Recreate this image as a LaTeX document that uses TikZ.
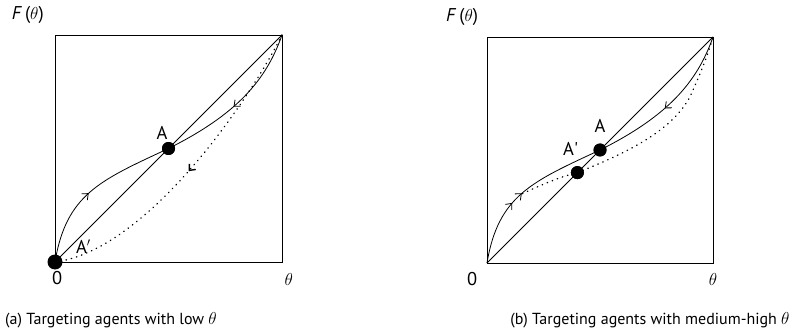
\documentclass[tikz,border=0pt]{standalone}
\usepackage{fontspec}
\setmainfont{PT Sans}
\usetikzlibrary{arrows.meta,decorations.markings}

\begin{document}
\begin{tikzpicture}[x=1pt,y=1pt,
    frame/.style={line width=0.85pt},
    curve/.style={line width=0.8pt},
    dotcurve/.style={line width=1.4pt, line cap=round, dash pattern=on 0.4pt off 5pt},
    bigdot/.style={circle, fill, inner sep=0pt, minimum size=#1},
    midarrow/.style={postaction={solid, line width=0.8pt, line cap=butt, decorate,
        decoration={markings,
        mark=at position #1 with {\arrow{Straight Barb[length=5pt,width=8.5pt]}}}}},
    lbl/.style={font=\fontsize{18.5}{22}\selectfont},
    captxt/.style={font=\fontsize{16}{19}\selectfont}]
    \useasboundingbox (0,0) rectangle (805,335);

    % (a) low theta
    \begin{scope}[shift={(55,73)}, x=227pt, y=227pt]
        \coordinate (O1) at (0,0);
        \coordinate (T1) at (1,1);
        \draw[frame] (O1) rectangle (T1);
        \draw[curve] (O1) -- (T1);
        \node[bigdot=13pt] (A1) at (0.5,0.5) {};
        \draw[curve, midarrow=0.46] (O1) .. controls (0.05,0.3) and (0.2,0.36) .. (A1.center);
        \draw[curve, midarrow=0.53] (T1) .. controls (0.93,0.8) and (0.8,0.65) .. (A1.center);
        \draw[dotcurve, midarrow=0.5] (T1) .. controls (0.85,0.7) and (0.4,0.05) .. (O1);
        \node[bigdot=13pt] at (A1) {};
        \node[bigdot=15pt] (O1dot) at (O1) {};
        \node[lbl] (F1) at (-0.12,1.09) {\textit{F}\,($\theta$)};
        \node[lbl] (zero1) at (0.01,-0.07) {0};
        \node[lbl] (th1) at (1.03,-0.075) {$\theta$};
        \node[lbl] (labA1) at (0.471,0.57) {A};
        \node[lbl] (labAp1) at (0.125,0.068) {A$'$};
    \end{scope}

    % (b) medium-high theta
    \begin{scope}[shift={(487,72)}, x=226pt, y=226pt]
        \coordinate (O2) at (0,0);
        \coordinate (T2) at (1,1);
        \coordinate (B2) at (0.157,0.307);
        \draw[frame] (O2) rectangle (T2);
        \draw[curve] (O2) -- (T2);
        \node[bigdot=13pt] (A2) at (0.5,0.5) {};
        \node[bigdot=13pt] (Ap2) at (0.4,0.4) {};
        \draw[curve, midarrow=0.39, midarrow=0.47] (O2) .. controls (0.05,0.3) and (0.2,0.36) .. (A2.center);
        \draw[curve, midarrow=0.53] (T2) .. controls (0.93,0.8) and (0.8,0.65) .. (A2.center);
        \draw[dotcurve] (B2) .. controls (0.25,0.35) and (0.32,0.38) .. (Ap2.center)
            .. controls (0.6,0.48) and (0.82,0.58) .. (0.9,0.74)
            .. controls (0.95,0.85) and (0.98,0.93) .. (T2);
        \node[bigdot=13pt] at (A2) {};
        \node[bigdot=13pt] at (Ap2) {};
        \node[lbl] (F2) at (-0.11,1.09) {\textit{F}\,($\theta$)};
        \node[lbl] (zero2) at (-0.066,-0.07) {0};
        \node[lbl] (th2) at (1.0,-0.075) {$\theta$};
        \node[lbl] (labA2) at (0.5,0.605) {A};
        \node[lbl] (labAp2) at (0.37,0.505) {A\textquotesingle};
    \end{scope}

    \node[captxt] (capA) at (111,15) {(a) Targeting agents with low $\theta$};
    \node[captxt] (capB) at (650,15) {(b) Targeting agents with medium-high $\theta$};
\end{tikzpicture}
\end{document}
